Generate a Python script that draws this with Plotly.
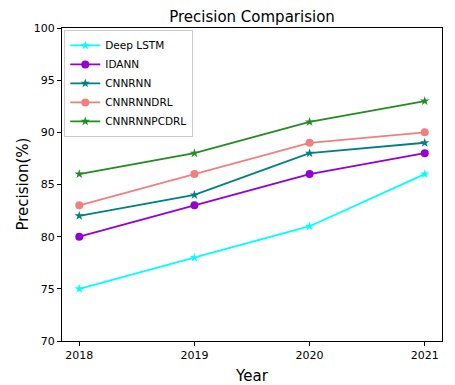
import plotly.graph_objects as go

years = [2018, 2019, 2020, 2021]
deep_lstm = [75, 78, 81, 86]
idann = [80, 83, 86, 88]
cnnrnn = [82, 84, 88, 89]
cnnrnndrl = [83, 86, 89, 90]
cnnrnnpcdrl = [86, 88, 91, 93]

series = [
    ("Deep LSTM", deep_lstm, "#00ffff", "star"),
    ("IDANN", idann, "#9400d3", "circle"),
    ("CNNRNN", cnnrnn, "#008080", "star"),
    ("CNNRNNDRL", cnnrnndrl, "#f08080", "circle"),
    ("CNNRNNPCDRL", cnnrnnpcdrl, "#228b22", "star"),
]

fig = go.Figure()
for name, vals, color, sym in series:
    fig.add_trace(go.Scatter(
        x=years, y=vals, name=name, mode="lines+markers",
        line=dict(color=color, width=1.8),
        marker=dict(symbol=sym, size=8 if sym == "circle" else 7, color=color),
    ))

axis_common = dict(
    showgrid=False, zeroline=False, showline=True, linecolor="black", linewidth=1,
    mirror=True, ticks="outside", ticklen=4, tickcolor="black", automargin=False,
    tickfont=dict(family="DejaVu Sans", size=11, color="black"),
)

W, H = 447, 377
ML, MR, MT, MB = 54, 13, 20, 44

# page body has an 8px default margin, so the figure is drawn 8px in from the top-left
fig.update_layout(
    width=W, height=H,
    margin=dict(l=ML, r=MR, t=MT, b=MB),
    paper_bgcolor="white", plot_bgcolor="white",
    title=dict(text="Precision Comparision", x=(ML + 190) / W, xanchor="center", y=1 - 8.5 / H, yanchor="middle",
               font=dict(family="DejaVu Sans", size=15, color="black")),
    xaxis=dict(range=[2017.85, 2021.15], tickvals=years, ticktext=[str(y) for y in years],
               title=dict(text="Year", font=dict(family="DejaVu Sans", size=15, color="black")),
               **axis_common),
    yaxis=dict(range=[70, 100], tickvals=[70, 75, 80, 85, 90, 95, 100], **axis_common),
    legend=dict(x=0.006, y=0.994, xanchor="left", yanchor="top",
                bgcolor="rgba(255,255,255,0.8)", bordercolor="#cccccc", borderwidth=1,
                font=dict(family="DejaVu Sans", size=10.5, color="black"),
                itemwidth=30, tracegroupgap=0),
    showlegend=True,
)

fig.add_annotation(
    text="Precision(%)", textangle=-90, showarrow=False,
    xref="paper", yref="paper", x=(14 - ML) / (W - ML - MR), y=0.5,
    xanchor="center", yanchor="middle",
    font=dict(family="DejaVu Sans", size=15, color="black"),
)

fig.write_html("out.html")
